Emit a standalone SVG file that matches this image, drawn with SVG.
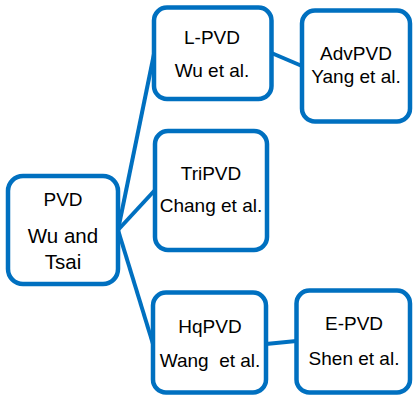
<svg xmlns="http://www.w3.org/2000/svg" width="413" height="399" viewBox="0 0 413 399">
<style>
.box{fill:#ffffff;stroke:#0070C0;stroke-width:4.5}
.lnk{stroke:#0070C0;stroke-width:4;fill:none}
text{font-family:"Liberation Sans",Arial,sans-serif;font-size:19px;fill:#000000;text-anchor:middle}
</style>
<rect width="413" height="399" fill="#ffffff"/>
<g id="connectors">
<line class="lnk" x1="118" y1="230" x2="154" y2="54"/>
<line class="lnk" x1="118" y1="230" x2="155" y2="190"/>
<line class="lnk" x1="118" y1="230" x2="153" y2="344"/>
<line class="lnk" x1="271.5" y1="53" x2="302" y2="66"/>
<line class="lnk" x1="266" y1="344" x2="296.5" y2="341"/>
</g>
<g id="pvd">
<rect class="box" x="8" y="176" width="110" height="108" rx="15"/>
<text x="63" y="205.5">PVD</text>
<text x="63" y="243" style="font-size:20.5px">Wu and</text>
<text x="63" y="269" style="font-size:20.5px">Tsai</text>
</g>
<g id="lpvd">
<rect class="box" x="154" y="7.5" width="117.5" height="91.5" rx="13"/>
<text x="212" y="44">L-PVD</text>
<text x="212" y="77">Wu et al.</text>
</g>
<g id="advpvd">
<rect class="box" x="302" y="10.5" width="108" height="111" rx="13"/>
<text x="356" y="60">AdvPVD</text>
<text x="356" y="83">Yang et al.</text>
</g>
<g id="tripvd">
<rect class="box" x="155" y="131" width="112" height="119" rx="13"/>
<text x="211" y="180">TriPVD</text>
<text x="211" y="212">Chang et al.</text>
</g>
<g id="hqpvd">
<rect class="box" x="153" y="292.5" width="113" height="100" rx="13"/>
<text x="210" y="333">HqPVD</text>
<text x="210" y="367" xml:space="preserve">Wang  et al.</text>
</g>
<g id="epvd">
<rect class="box" x="296.5" y="290.5" width="113.5" height="102" rx="13"/>
<text x="354" y="330">E-PVD</text>
<text x="354" y="365">Shen et al.</text>
</g>
</svg>
